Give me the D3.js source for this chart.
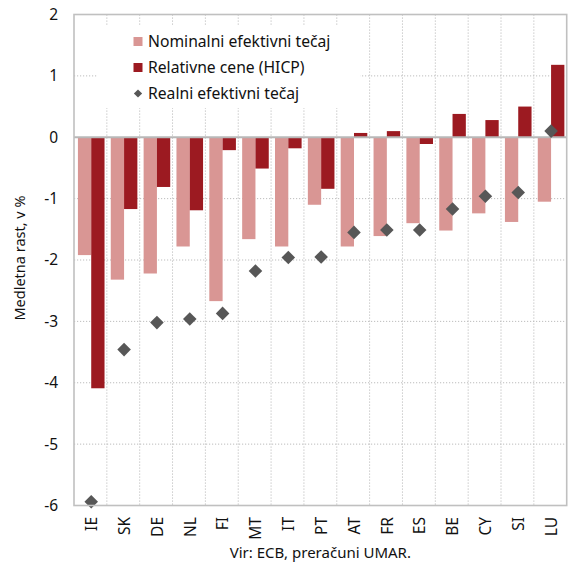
<!DOCTYPE html>
<html><head><meta charset="utf-8">
<script src="https://cdn.jsdelivr.net/npm/d3@7"></script>
<style>body{margin:0;background:#fff;}svg{display:block;font-family:"Noto Sans",sans-serif;}</style>
</head><body><svg id="c" width="571" height="568"></svg>
<script>
const categories = ["IE","SK","DE","NL","FI","MT","IT","PT","AT","FR","ES","BE","CY","SI","LU"];
const nominal = [-1.92,-2.32,-2.22,-1.78,-2.67,-1.66,-1.78,-1.10,-1.78,-1.61,-1.40,-1.52,-1.24,-1.38,-1.05];
const relative = [-4.09,-1.17,-0.81,-1.19,-0.21,-0.51,-0.18,-0.84,0.07,0.10,-0.11,0.38,0.28,0.50,1.18];
const real = [-5.94,-3.46,-3.02,-2.96,-2.87,-2.18,-1.96,-1.95,-1.55,-1.51,-1.51,-1.17,-0.96,-0.90,0.10];
const yTicks = [2,1,0,-1,-2,-3,-4,-5,-6];
const seriesNames = ["Nominalni efektivni tečaj","Relativne cene (HICP)","Realni efektivni tečaj"];
const yTitle = "Medletna rast, v %";
const sourceText = "Vir: ECB, preračuni UMAR.";

const colNom = "#d99694", colRel = "#9c1a21", colReal = "#575757";
const gridCol = "#bdbdbd", frameCol = "#c0c0c0";
const L = 74, R = 566.7, T = 14.5, B = 505.5;
const svg = d3.select("#c");

const x = d3.scaleBand().domain(categories).range([L, R]).padding(0);
const y = d3.scaleLinear().domain([-6, 2]).range([B, T]);
const bw = x.bandwidth();
const x1 = d3.scaleBand().domain(["nom","rel"]).range([bw/2 - 12.5, bw/2 + 14.1]).padding(0);

// gridlines
const g = svg.append("g");
g.selectAll("line.h").data(yTicks.filter(d => d !== 2 && d !== -6 && d !== 0)).join("line")
  .attr("x1", L).attr("x2", R).attr("y1", d => y(d)).attr("y2", d => y(d))
  .attr("stroke", gridCol).attr("stroke-width", 1).attr("stroke-dasharray", "1.2,1.8");
g.selectAll("line.v").data(categories.slice(1)).join("line")
  .attr("x1", d => x(d)).attr("x2", d => x(d)).attr("y1", T).attr("y2", B)
  .attr("stroke", gridCol).attr("stroke-width", 1).attr("stroke-dasharray", "1.2,1.8");

// legend background
svg.append("rect").attr("x", 97).attr("y", 25).attr("width", 263).attr("height", 83).attr("fill", "#fff");

// bars
const bars = svg.append("g");
bars.selectAll("rect.n").data(categories).join("rect")
  .attr("x", (d) => x(d) + x1("nom")).attr("width", x1.bandwidth())
  .attr("y", (d,i) => y(Math.max(0, nominal[i]))).attr("height", (d,i) => Math.abs(y(nominal[i]) - y(0)))
  .attr("fill", colNom);
bars.selectAll("rect.r").data(categories).join("rect")
  .attr("x", (d) => x(d) + x1("rel")).attr("width", x1.bandwidth())
  .attr("y", (d,i) => y(Math.max(0, relative[i]))).attr("height", (d,i) => Math.abs(y(relative[i]) - y(0)))
  .attr("fill", colRel);

// zero line
svg.append("line").attr("x1", L).attr("x2", R).attr("y1", y(0)).attr("y2", y(0))
  .attr("stroke", "#b8b8b8").attr("stroke-width", 2);

// diamonds
const sym = d3.symbol().type(d3.symbolSquare).size(92);
svg.selectAll("path.d").data(categories).join("path")
  .attr("d", sym)
  .attr("transform", (d,i) => `translate(${x(d) + x1("rel")},${y(real[i])}) rotate(45)`)
  .attr("fill", colReal);

// frame
svg.append("rect").attr("x", L).attr("y", T).attr("width", R - L).attr("height", B - T)
  .attr("fill", "none").attr("stroke", frameCol).attr("stroke-width", 1.6);

// y axis labels
svg.append("g").selectAll("text").data(yTicks).join("text")
  .attr("x", 58).attr("y", d => y(d)).attr("dy", "0.35em")
  .attr("text-anchor", "end").attr("font-size", 15.5).attr("fill", "#111")
  .text(d => d);

// x axis labels
svg.append("g").selectAll("text").data(categories).join("text")
  .attr("transform", d => `translate(${x(d) + bw/2 + 1},517) rotate(-90)`)
  .attr("dy", "0.36em").attr("text-anchor", "end").attr("font-size", 15.5).attr("fill", "#111")
  .text(d => d);

// y title
svg.append("text").attr("transform", "translate(20,258) rotate(-90)")
  .attr("dy", "0.35em").attr("text-anchor", "middle").attr("font-size", 14.5).attr("fill", "#111")
  .text(yTitle);

// source
svg.append("text").attr("x", (L + R) / 2).attr("y", 558).attr("text-anchor", "middle")
  .attr("font-size", 15).attr("fill", "#111").text(sourceText);

// legend
const lg = svg.append("g");
const ly = [41.5, 67.5, 93.5];
lg.append("rect").attr("x", 133.5).attr("y", ly[0] - 4.5).attr("width", 9).attr("height", 9).attr("fill", colNom);
lg.append("rect").attr("x", 133.5).attr("y", ly[1] - 4.5).attr("width", 9).attr("height", 9).attr("fill", colRel);
lg.append("path").attr("d", d3.symbol().type(d3.symbolSquare).size(34))
  .attr("transform", `translate(138,${ly[2]}) rotate(45)`).attr("fill", colReal);
lg.selectAll("text").data(seriesNames).join("text")
  .attr("x", 148).attr("y", (d,i) => ly[i]).attr("dy", "0.36em")
  .attr("font-size", 15.7).attr("fill", "#111").text(d => d);
</script></body></html>
